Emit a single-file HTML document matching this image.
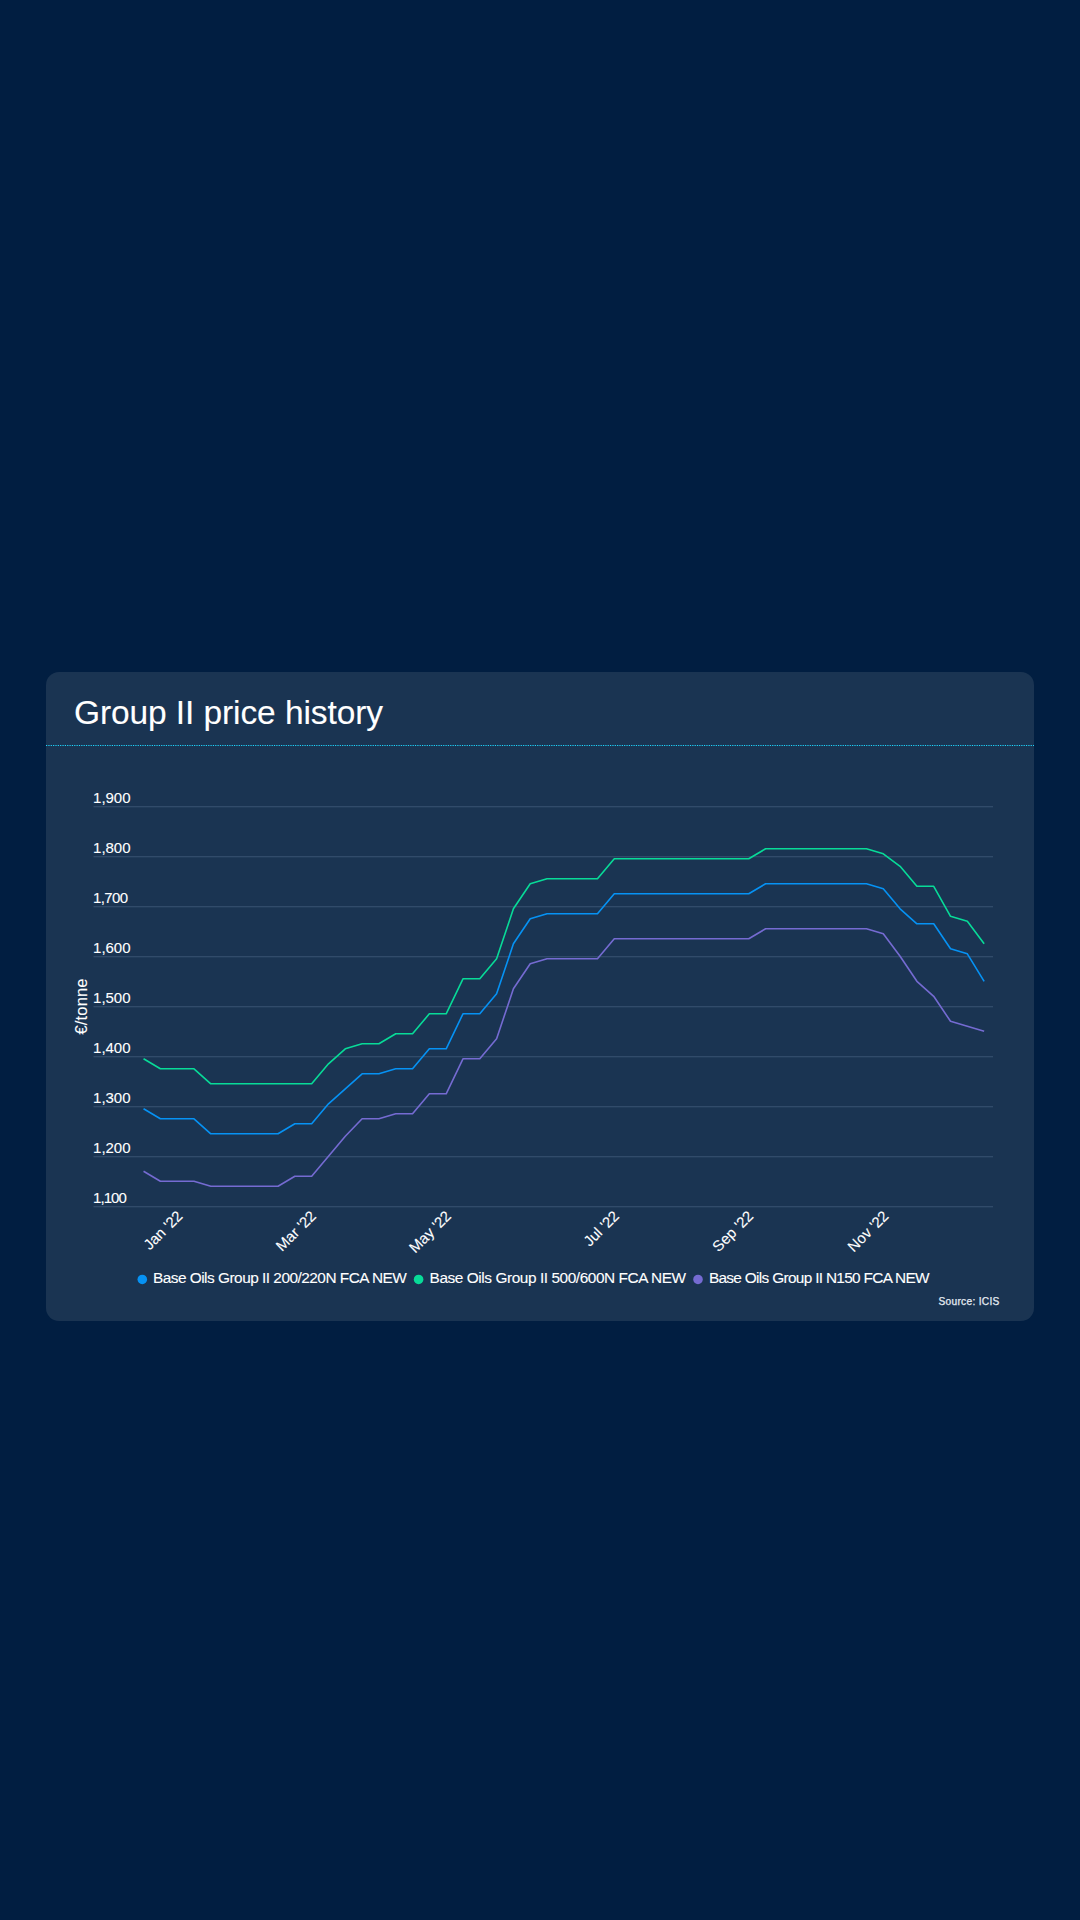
<!DOCTYPE html>
<html lang="en"><head><meta charset="utf-8"><title>Group II price history</title>
<style>
html,body{margin:0;padding:0;}
body{width:1080px;height:1920px;background:#011e41;position:relative;overflow:hidden;font-family:'Liberation Sans', sans-serif;}
.card{position:absolute;left:46px;top:672px;width:988px;height:649px;border-radius:13px;background:#1a3452;}
svg{position:absolute;left:0;top:0;}
svg text{font-family:'Liberation Sans', sans-serif;stroke:#ffffff;stroke-width:0.1px;}
</style></head><body>
<div class="card"></div>
<svg width="1080" height="1920" viewBox="0 0 1080 1920">
<text x="74" y="724.4" font-size="33.5" fill="#ffffff" textLength="309">Group II price history</text>
<line x1="46" x2="1034" y1="745.5" y2="745.5" stroke="#1fd8ff" stroke-width="1.2" stroke-dasharray="1.2 1.15"/>
<line x1="93.5" x2="993" y1="806.75" y2="806.75" stroke="#3a5373" stroke-width="1.1"/>
<text x="93.1" y="803.05" font-size="15" fill="#ffffff" textLength="37.4">1,900</text>
<line x1="93.5" x2="993" y1="856.75" y2="856.75" stroke="#3a5373" stroke-width="1.1"/>
<text x="93.1" y="853.05" font-size="15" fill="#ffffff" textLength="37.4">1,800</text>
<line x1="93.5" x2="993" y1="906.75" y2="906.75" stroke="#3a5373" stroke-width="1.1"/>
<text x="93.1" y="903.05" font-size="15" fill="#ffffff" textLength="35.0">1,700</text>
<line x1="93.5" x2="993" y1="956.75" y2="956.75" stroke="#3a5373" stroke-width="1.1"/>
<text x="93.1" y="953.05" font-size="15" fill="#ffffff" textLength="37.4">1,600</text>
<line x1="93.5" x2="993" y1="1006.75" y2="1006.75" stroke="#3a5373" stroke-width="1.1"/>
<text x="93.1" y="1003.05" font-size="15" fill="#ffffff" textLength="37.4">1,500</text>
<line x1="93.5" x2="993" y1="1056.75" y2="1056.75" stroke="#3a5373" stroke-width="1.1"/>
<text x="93.1" y="1053.05" font-size="15" fill="#ffffff" textLength="37.4">1,400</text>
<line x1="93.5" x2="993" y1="1106.75" y2="1106.75" stroke="#3a5373" stroke-width="1.1"/>
<text x="93.1" y="1103.05" font-size="15" fill="#ffffff" textLength="37.4">1,300</text>
<line x1="93.5" x2="993" y1="1156.75" y2="1156.75" stroke="#3a5373" stroke-width="1.1"/>
<text x="93.1" y="1153.05" font-size="15" fill="#ffffff" textLength="37.4">1,200</text>
<line x1="93.5" x2="993" y1="1206.75" y2="1206.75" stroke="#3a5373" stroke-width="1.1"/>
<text x="93.1" y="1203.05" font-size="15" fill="#ffffff" textLength="33.7">1,100</text>

<text transform="translate(87.0,1006.5) rotate(-90)" text-anchor="middle" font-size="16.5" fill="#ffffff" textLength="56">€/tonne</text>
<polyline fill="none" stroke="#08db98" stroke-width="1.6" stroke-linejoin="round" points="143.55,1058.80 160.36,1068.80 177.17,1068.80 193.99,1068.80 210.80,1083.80 227.61,1083.80 244.42,1083.80 261.23,1083.80 278.05,1083.80 294.86,1083.80 311.67,1083.80 328.48,1063.80 345.29,1048.80 362.11,1043.80 378.92,1043.80 395.73,1033.80 412.54,1033.80 429.35,1013.80 446.17,1013.80 462.98,978.80 479.79,978.80 496.60,958.80 513.41,908.80 530.23,883.80 547.04,878.80 563.85,878.80 580.66,878.80 597.47,878.80 614.29,858.80 631.10,858.80 647.91,858.80 664.72,858.80 681.53,858.80 698.35,858.80 715.16,858.80 731.97,858.80 748.78,858.80 765.59,848.80 782.41,848.80 799.22,848.80 816.03,848.80 832.84,848.80 849.65,848.80 866.47,848.80 883.28,853.80 900.09,866.30 916.90,886.30 933.71,886.30 950.53,916.30 967.34,921.30 984.15,943.80"/>
<polyline fill="none" stroke="#0692f4" stroke-width="1.6" stroke-linejoin="round" points="143.55,1108.80 160.36,1118.80 177.17,1118.80 193.99,1118.80 210.80,1133.80 227.61,1133.80 244.42,1133.80 261.23,1133.80 278.05,1133.80 294.86,1123.80 311.67,1123.80 328.48,1103.80 345.29,1088.80 362.11,1073.80 378.92,1073.80 395.73,1068.80 412.54,1068.80 429.35,1048.80 446.17,1048.80 462.98,1013.80 479.79,1013.80 496.60,993.80 513.41,943.80 530.23,918.80 547.04,913.80 563.85,913.80 580.66,913.80 597.47,913.80 614.29,893.80 631.10,893.80 647.91,893.80 664.72,893.80 681.53,893.80 698.35,893.80 715.16,893.80 731.97,893.80 748.78,893.80 765.59,883.80 782.41,883.80 799.22,883.80 816.03,883.80 832.84,883.80 849.65,883.80 866.47,883.80 883.28,888.80 900.09,908.80 916.90,923.80 933.71,923.80 950.53,948.80 967.34,953.80 984.15,981.30"/>
<polyline fill="none" stroke="#756bd2" stroke-width="1.6" stroke-linejoin="round" points="143.55,1171.30 160.36,1181.30 177.17,1181.30 193.99,1181.30 210.80,1186.30 227.61,1186.30 244.42,1186.30 261.23,1186.30 278.05,1186.30 294.86,1176.30 311.67,1176.30 328.48,1156.30 345.29,1136.30 362.11,1118.80 378.92,1118.80 395.73,1113.80 412.54,1113.80 429.35,1093.80 446.17,1093.80 462.98,1058.80 479.79,1058.80 496.60,1038.80 513.41,988.80 530.23,963.80 547.04,958.80 563.85,958.80 580.66,958.80 597.47,958.80 614.29,938.80 631.10,938.80 647.91,938.80 664.72,938.80 681.53,938.80 698.35,938.80 715.16,938.80 731.97,938.80 748.78,938.80 765.59,928.80 782.41,928.80 799.22,928.80 816.03,928.80 832.84,928.80 849.65,928.80 866.47,928.80 883.28,933.80 900.09,956.30 916.90,981.30 933.71,996.30 950.53,1021.30 967.34,1026.30 984.15,1031.30"/>
<text transform="translate(183.5,1217) rotate(-45)" text-anchor="end" font-size="15" fill="#ffffff">Jan '22</text>
<text transform="translate(317,1217) rotate(-45)" text-anchor="end" font-size="15" fill="#ffffff">Mar '22</text>
<text transform="translate(452,1217) rotate(-45)" text-anchor="end" font-size="15" fill="#ffffff">May '22</text>
<text transform="translate(620,1217) rotate(-45)" text-anchor="end" font-size="15" fill="#ffffff">Jul '22</text>
<text transform="translate(754.2,1217) rotate(-45)" text-anchor="end" font-size="15" fill="#ffffff">Sep '22</text>
<text transform="translate(889.5,1217) rotate(-45)" text-anchor="end" font-size="15" fill="#ffffff">Nov '22</text>

<circle cx="142.3" cy="1279.45" r="4.8" fill="#0692f4"/>
<text x="152.9" y="1283.0" font-size="15.4" fill="#ffffff" textLength="254">Base Oils Group II 200/220N FCA NEW</text>
<circle cx="418.6" cy="1279.45" r="4.8" fill="#08db98"/>
<text x="429.6" y="1283.0" font-size="15.4" fill="#ffffff" textLength="256.5">Base Oils Group II 500/600N FCA NEW</text>
<circle cx="698" cy="1279.45" r="4.8" fill="#756bd2"/>
<text x="708.9" y="1283.0" font-size="15.4" fill="#ffffff" textLength="220.7">Base Oils Group II N150 FCA NEW</text>
<text x="938.5" y="1304.9" font-size="10.2" fill="#e6ecf3" style="stroke:#e6ecf3;stroke-width:0.25px" textLength="60.8">Source: ICIS</text>
</svg>
</body></html>
